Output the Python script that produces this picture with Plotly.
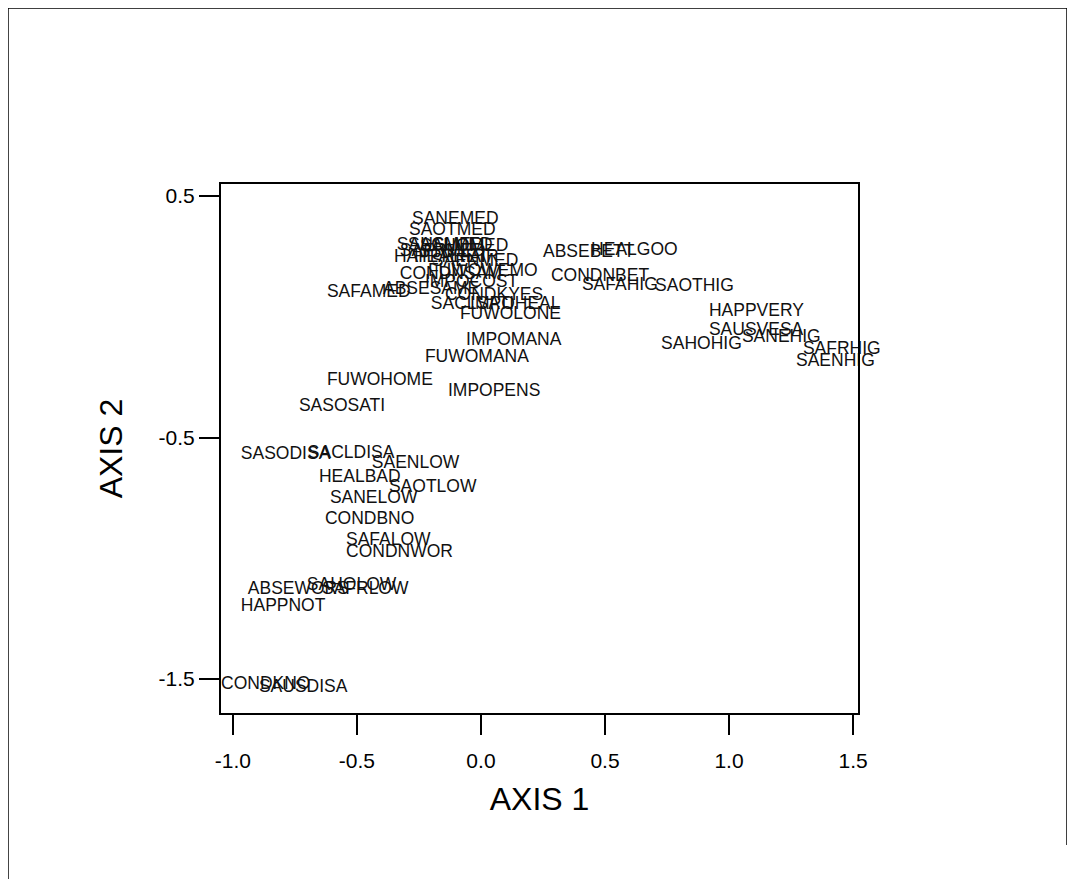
import plotly.graph_objects as go

labels = ["SANEMED", "SAOTMED", "SAUSMED", "SACLMED", "SAHOMED", "SAFRMED", "HAPPPRET",
          "HEALFAIR", "SAENMED", "CONDNSAM", "FUWOWEMO", "IMPOCOST", "ABSESAME", "SAFAMED",
          "CONDKYES", "SACLSATI", "IMPOHEAL", "FUWOLONE",
          "ABSEBETT", "HEALGOO", "CONDNBET", "SAFAHIG", "SAOTHIG", "HAPPVERY", "SAUSVESA",
          "SANEHIG", "SAHOHIG", "SAFRHIG", "SAENHIG",
          "IMPOMANA", "FUWOMANA", "FUWOHOME", "IMPOPENS", "SASOSATI", "SASODISA", "SACLDISA",
          "SAENLOW", "HEALBAD", "SAOTLOW", "SANELOW", "CONDBNO", "SAFALOW", "CONDNWOR",
          "ABSEWORS", "SAHOLOW", "SAFRLOW", "HAPPNOT", "CONDKNO", "SAUSDISA"]
axis1 = [-0.278, -0.290, -0.339, -0.294, -0.246, -0.327, -0.351,
         -0.270, -0.198, -0.327, -0.214, -0.226, -0.395, -0.621,
         -0.145, -0.202, -0.044, -0.085,
         0.250, 0.444, 0.282, 0.407, 0.702, 0.919, 0.919,
         1.052, 0.726, 1.298, 1.270,
         -0.060, -0.226, -0.621, -0.133, -0.734, -0.968, -0.698,
         -0.440, -0.653, -0.371, -0.609, -0.629, -0.544, -0.544,
         -0.940, -0.702, -0.641, -0.968, -1.048, -0.895]
axis2 = [0.401, 0.355, 0.293, 0.293, 0.289, 0.268, 0.247,
         0.247, 0.227, 0.173, 0.189, 0.140, 0.111, 0.102,
         0.086, 0.049, 0.049, 0.011,
         0.264, 0.272, 0.165, 0.131, 0.123, 0.020, -0.059,
         -0.088, -0.117, -0.138, -0.187,
         -0.100, -0.171, -0.266, -0.312, -0.374, -0.572, -0.568,
         -0.610, -0.668, -0.709, -0.755, -0.842, -0.929, -0.978,
         -1.131, -1.115, -1.131, -1.202, -1.525, -1.537]

xticks = [-1.0, -0.5, 0.0, 0.5, 1.0, 1.5]
xticktext = ["-1.0", "-0.5", "0.0", "0.5", "1.0", "1.5"]
yticks = [0.5, -0.5, -1.5]
yticktext = ["0.5", "-0.5", "-1.5"]

FONT = "Liberation Sans, Arial, sans-serif"

fig = go.Figure()
fig.add_trace(go.Scatter(
    x=axis1, y=axis2, text=labels, mode="text", textposition="middle right",
    textfont=dict(family=FONT, size=17.5, color="#111111"),
    hoverinfo="text", showlegend=False, cliponaxis=False))

axis_common = dict(showgrid=False, zeroline=False, showline=True, linecolor="black",
                   linewidth=2, mirror=True, ticks="outside", ticklen=20, tickwidth=2,
                   tickcolor="black",
                   tickfont=dict(family=FONT, size=21, color="black"))

fig.update_layout(
    width=1075, height=879,
    margin=dict(l=213, r=225, t=176, b=174),
    paper_bgcolor="white", plot_bgcolor="white",
    xaxis=dict(range=[-1.048, 1.520], tickvals=xticks, ticktext=xticktext,
               ticklabelstandoff=8,
               title=dict(text="AXIS 1", standoff=16,
                          font=dict(family=FONT, size=32, color="black")),
               **axis_common),
    yaxis=dict(range=[-1.641, 0.550], tickvals=yticks, ticktext=yticktext,
               title=dict(text="AXIS 2", standoff=26,
                          font=dict(family=FONT, size=32, color="black")),
               **axis_common),
    shapes=[
        dict(type="line", xref="paper", yref="paper", x0=-0.3344, x1=1.3281, y0=1.3327, y1=1.3327,
             line=dict(color="black", width=1.5)),
        dict(type="line", xref="paper", yref="paper", x0=-0.3344, x1=-0.3344, y0=1.3327, y1=-0.32,
             line=dict(color="black", width=1.5)),
        dict(type="line", xref="paper", yref="paper", x0=1.3281, x1=1.3281, y0=1.3327, y1=-0.2495,
             line=dict(color="black", width=1.5)),
    ],
)

fig.write_html("out.html")
